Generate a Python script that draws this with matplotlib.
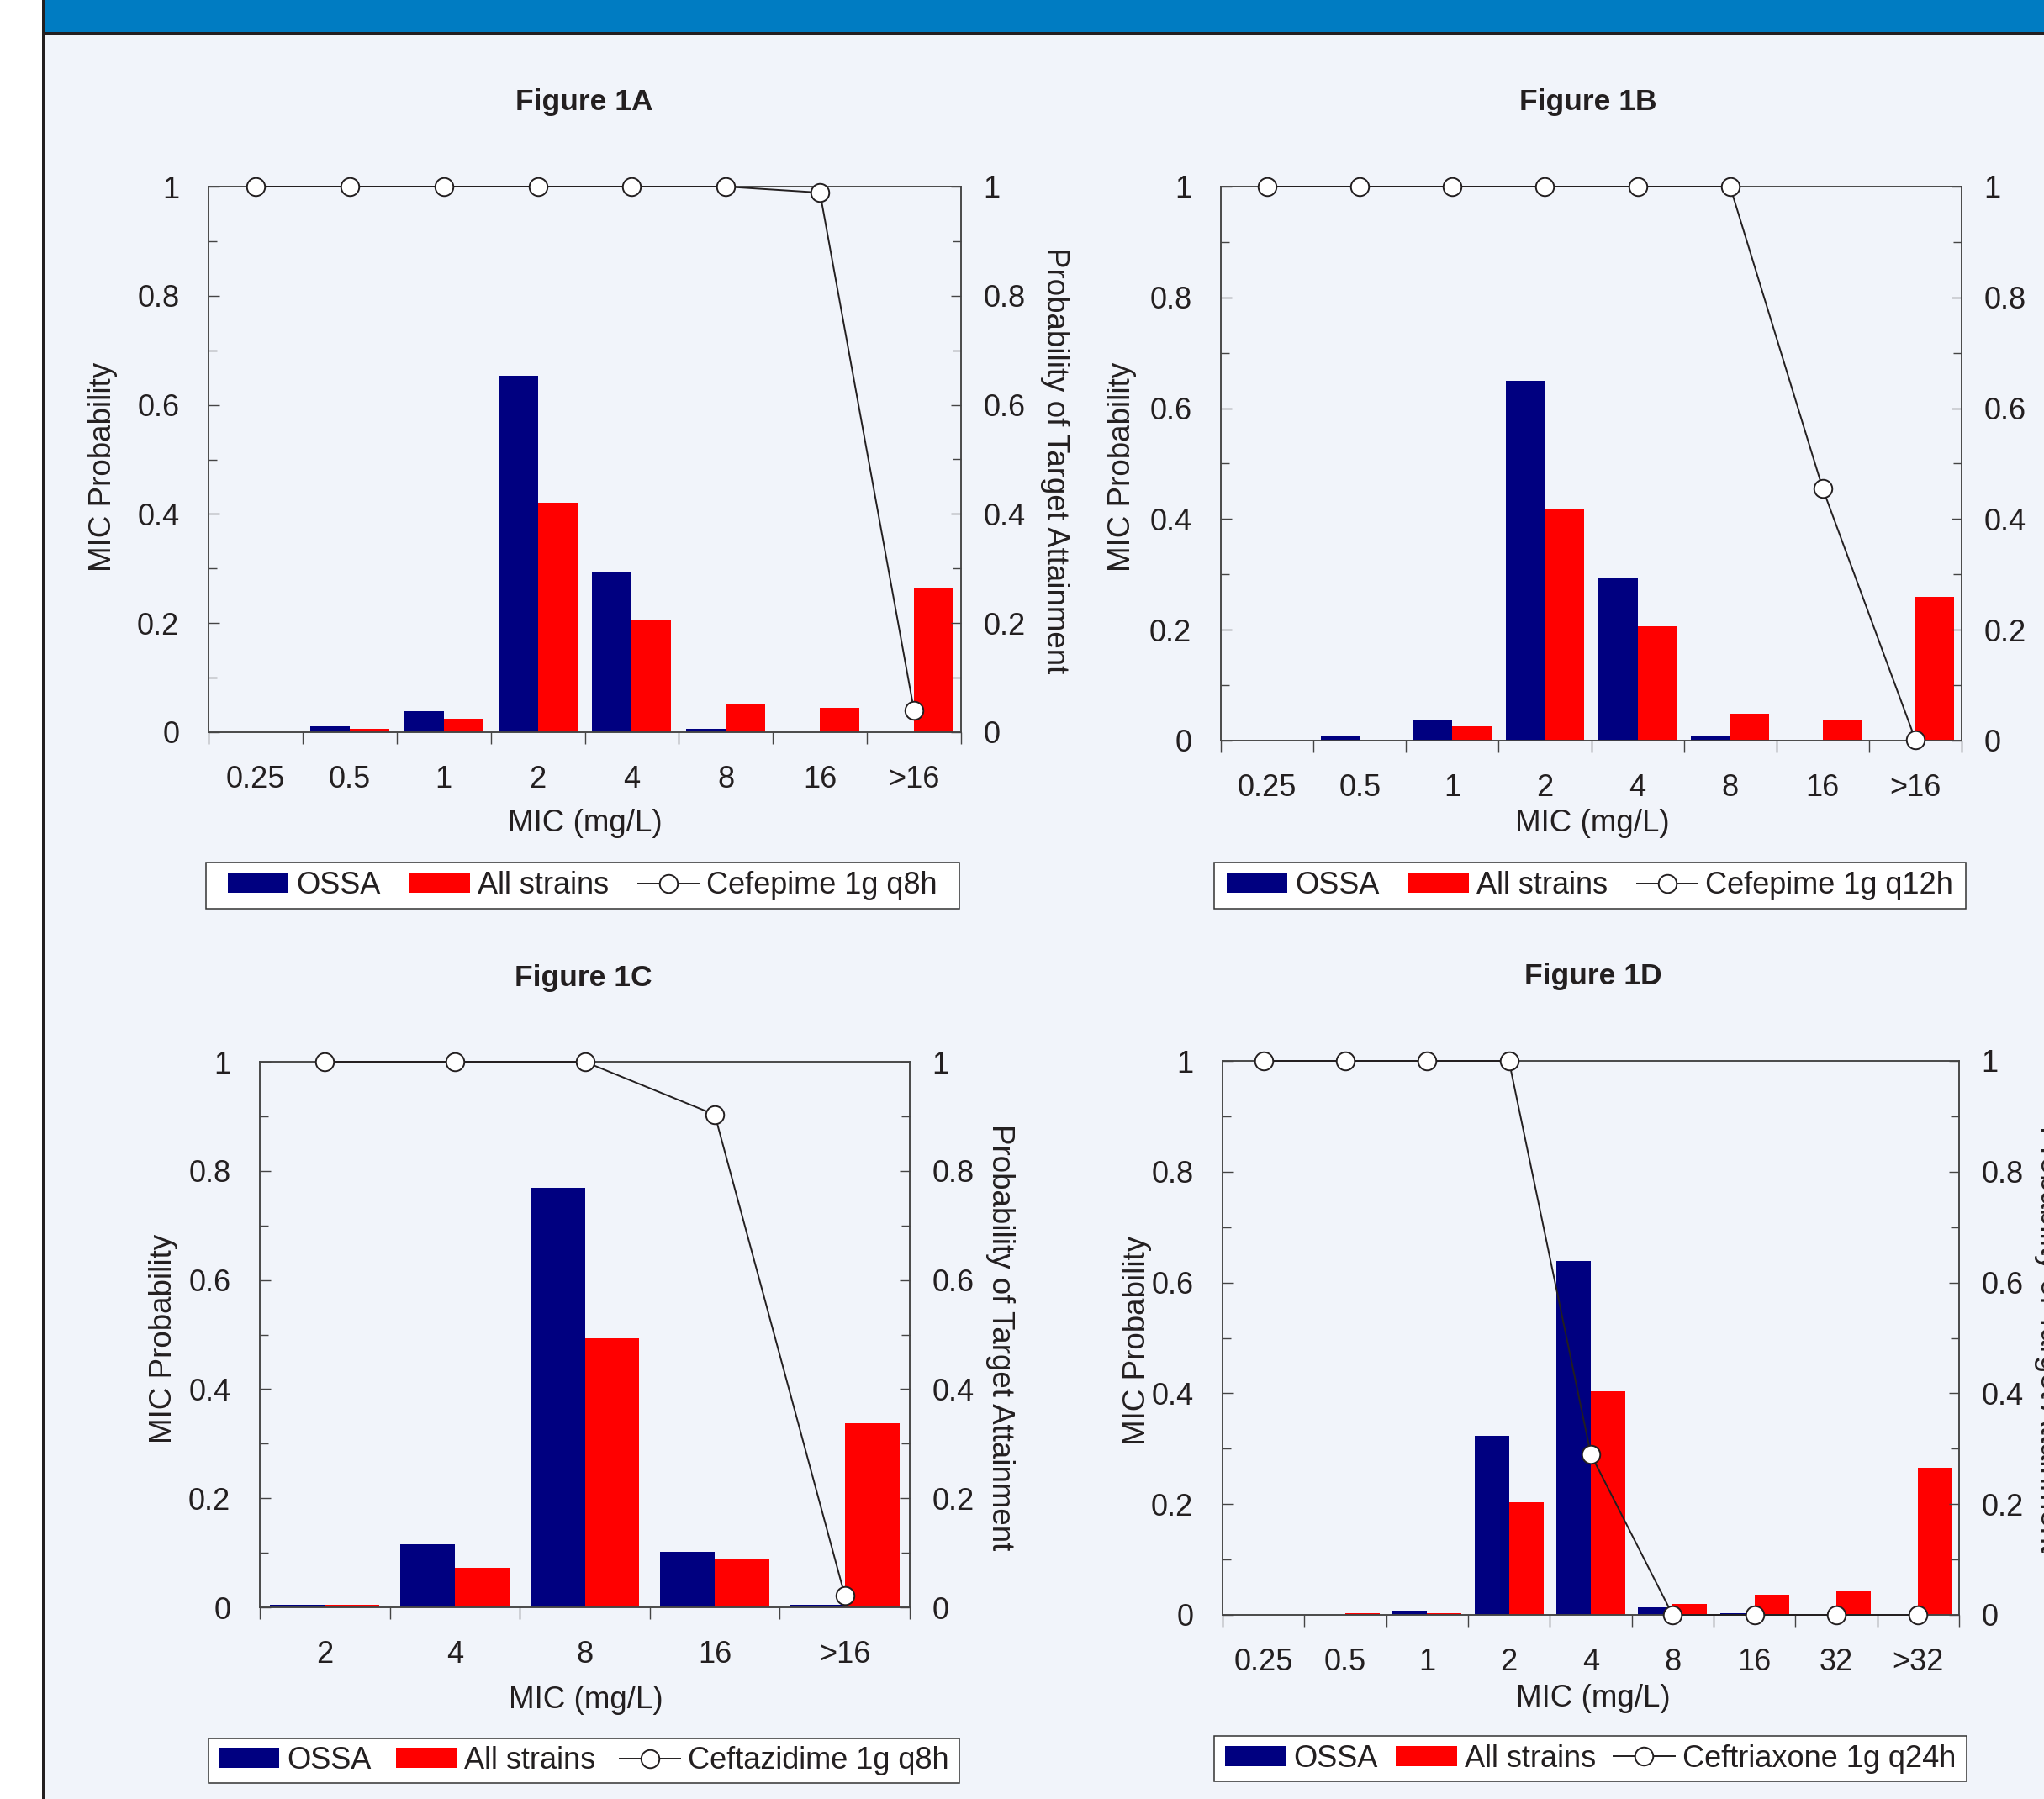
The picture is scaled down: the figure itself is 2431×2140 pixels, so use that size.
import numpy as np
import matplotlib
matplotlib.use("Agg")
import matplotlib.pyplot as plt
from matplotlib.patches import Rectangle
from matplotlib.ticker import FixedLocator, NullFormatter, FixedFormatter

plt.rcParams['font.family'] = ['Liberation Sans', 'DejaVu Sans']

# ---- data ----
# Figure 1A : cefepime 1g q8h
mic_a = ["0.25", "0.5", "1", "2", "4", "8", "16", ">16"]
ossa_a = [0, 0.011, 0.038, 0.654, 0.295, 0.006, 0, 0]
all_a = [0, 0.006, 0.025, 0.42, 0.207, 0.051, 0.044, 0.265]
pta_a = [1, 1, 1, 1, 1, 1, 0.989, 0.04]

# Figure 1B : cefepime 1g q12h
mic_b = ["0.25", "0.5", "1", "2", "4", "8", "16", ">16"]
ossa_b = [0, 0.007, 0.038, 0.65, 0.294, 0.007, 0, 0]
all_b = [0, 0, 0.026, 0.417, 0.206, 0.048, 0.038, 0.259]
pta_b = [1, 1, 1, 1, 1, 1, 0.455, 0.002]

# Figure 1C : ceftazidime 1g q8h
mic_c = ["2", "4", "8", "16", ">16"]
ossa_c = [0.005, 0.116, 0.769, 0.102, 0.005]
all_c = [0.005, 0.072, 0.493, 0.09, 0.338]
pta_c = [1, 1, 1, 0.903, 0.022]

# Figure 1D : ceftriaxone 1g q24h
mic_d = ["0.25", "0.5", "1", "2", "4", "8", "16", "32", ">32"]
ossa_d = [0, 0, 0.008, 0.323, 0.639, 0.014, 0.003, 0, 0]
all_d = [0, 0.003, 0.003, 0.203, 0.404, 0.02, 0.036, 0.042, 0.266]
pta_d = [1, 1, 1, 1, 0.29, 0, 0, 0, 0]

series_names = ["OSSA", "All strains"]
y_ticks = [0, 0.2, 0.4, 0.6, 0.8, 1]
y_ticklabels = ["0", "0.2", "0.4", "0.6", "0.8", "1"]

W, H = 2431, 2140
NAVY = "#000080"
RED = "#FF0000"
INK = "#231F20"
BG = "#F1F4FA"
FS_TICK = 26
FS_LABEL = 26.5
FS_TITLE = 25.5
FS_LEG = 26


def fx(px):
    return px / W


def fy(py):
    return 1 - py / H


fig = plt.figure(figsize=(W / 100, H / 100), dpi=100, facecolor=BG)

# page decoration: white margin, blue header band, dark rules
fig.patches.append(Rectangle((0, 0), fx(50), 1, transform=fig.transFigure,
                             facecolor="white", edgecolor="none", zorder=-5))
fig.patches.append(Rectangle((fx(50), fy(38)), 1, 1, transform=fig.transFigure,
                             facecolor="#007CC2", edgecolor="none", zorder=-5))
fig.patches.append(Rectangle((fx(50), fy(42)), 1, 4 / H, transform=fig.transFigure,
                             facecolor=INK, edgecolor="none", zorder=-4))
fig.patches.append(Rectangle((fx(50), 0), 4 / W, 1, transform=fig.transFigure,
                             facecolor=INK, edgecolor="none", zorder=-4))


def panel(box, title, title_xy, mics, ossa, allst, pta, regimen,
          xlabel_xy, ylabel_xy, y2label_xy, legbox, colspace=0.95):
    l, t, r, b = box
    ax = fig.add_axes([fx(l), fy(b), fx(r - l), (b - t) / H])
    ax.set_facecolor("none")
    n = len(mics)
    x = np.arange(n)
    w = 0.42
    b1 = ax.bar(x - w / 2, ossa, w, color=NAVY, label=series_names[0])
    b2 = ax.bar(x + w / 2, allst, w, color=RED, label=series_names[1])
    ax.set_xlim(-0.5, n - 0.5)
    ax.set_ylim(0, 1)

    # x: ticks on category boundaries, labels at centres
    ax.xaxis.set_major_locator(FixedLocator(np.arange(n + 1) - 0.5))
    ax.xaxis.set_major_formatter(NullFormatter())
    ax.xaxis.set_minor_locator(FixedLocator(x))
    ax.xaxis.set_minor_formatter(FixedFormatter(mics))
    ax.tick_params(axis="x", which="major", direction="out", length=10, width=1, color="#444444")
    ax.tick_params(axis="x", which="minor", length=0, pad=28, labelsize=FS_TICK, labelcolor=INK)

    ax.set_yticks(y_ticks)
    ax.set_yticklabels(y_ticklabels)
    ax.yaxis.set_minor_locator(FixedLocator([0.1, 0.3, 0.5, 0.7, 0.9]))
    ax.tick_params(axis="y", which="major", direction="in", length=9, width=1,
                   pad=25, labelsize=FS_TICK, labelcolor=INK, color="#444444")
    ax.tick_params(axis="y", which="minor", direction="in", length=7.5, width=1, color="#444444")
    for s in ax.spines.values():
        s.set_color("#444444")
        s.set_linewidth(1.1)

    ax2 = ax.twinx()
    ln, = ax2.plot(x, pta, color=INK, lw=1.4, marker="o", ms=15.5, mfc="white",
                   mec=INK, mew=1.4, clip_on=False, zorder=5, label=regimen)
    ax2.set_ylim(0, 1)
    ax2.set_yticks(y_ticks)
    ax2.set_yticklabels(y_ticklabels)
    ax2.yaxis.set_minor_locator(FixedLocator([0.1, 0.3, 0.5, 0.7, 0.9]))
    ax2.tick_params(axis="y", which="major", direction="in", length=9, width=1,
                    pad=19, labelsize=FS_TICK, labelcolor=INK, color="#444444")
    ax2.tick_params(axis="y", which="minor", direction="in", length=7.5, width=1, color="#444444")
    for s in ax2.spines.values():
        s.set_color("#444444")
        s.set_linewidth(1.1)

    fig.text(fx(title_xy[0]), fy(title_xy[1]), title, ha="center", va="center",
             fontsize=FS_TITLE, fontweight="bold", color=INK)
    fig.text(fx(xlabel_xy[0]), fy(xlabel_xy[1]), "MIC (mg/L)", ha="center", va="center",
             fontsize=FS_LABEL, color=INK)
    fig.text(fx(ylabel_xy[0]), fy(ylabel_xy[1]), "MIC Probability", ha="center", va="center",
             rotation=90, fontsize=FS_LABEL, color=INK)
    if y2label_xy is not None:
        fig.text(fx(y2label_xy[0]), fy(y2label_xy[1]), "Probability of Target Attainment",
                 ha="center", va="center", rotation=-90, fontsize=FS_LABEL, color=INK)

    # legend box drawn as a patch, legend content centred inside it
    ll, lt, lr, lb = legbox
    fig.patches.append(Rectangle((fx(ll), fy(lb)), fx(lr - ll), (lb - lt) / H,
                                 transform=fig.transFigure, facecolor="white",
                                 edgecolor="#333333", linewidth=1.1, zorder=-1))
    leg = ax2.legend(handles=[b1, b2, ln], loc="center", ncol=3,
                     bbox_to_anchor=(fx((ll + lr) / 2), fy((lt + lb) / 2)),
                     bbox_transform=fig.transFigure, fontsize=FS_LEG, handlelength=2.0,
                     handleheight=0.65, handletextpad=0.25, columnspacing=colspace,
                     borderpad=0.2, borderaxespad=0, frameon=False)
    for txt in leg.get_texts():
        txt.set_color(INK)
    return ax


panel((248, 222, 1143, 871), "Figure 1A", (695, 121), mic_a, ossa_a, all_a, pta_a,
      "Cefepime 1g q8h", (696, 980), (122, 555), (1254, 548), (245, 1026, 1141, 1081))
panel((1452, 222, 2333, 881), "Figure 1B", (1889, 121), mic_b, ossa_b, all_b, pta_b,
      "Cefepime 1g q12h", (1894, 980), (1335, 555), None, (1444, 1026, 2338, 1081))
panel((309, 1263, 1082, 1912), "Figure 1C", (694, 1163), mic_c, ossa_c, all_c, pta_c,
      "Ceftazidime 1g q8h", (697, 2022), (195, 1592), (1190, 1591), (248, 2068, 1141, 2121),
      colspace=0.8)
panel((1454, 1262, 2330, 1921), "Figure 1D", (1895, 1161), mic_d, ossa_d, all_d, pta_d,
      "Ceftriaxone 1g q24h", (1895, 2021), (1353, 1594), (2437, 1593), (1444, 2065, 2339, 2119),
      colspace=0.6)

fig.savefig("out.png", dpi=100, facecolor=BG)
